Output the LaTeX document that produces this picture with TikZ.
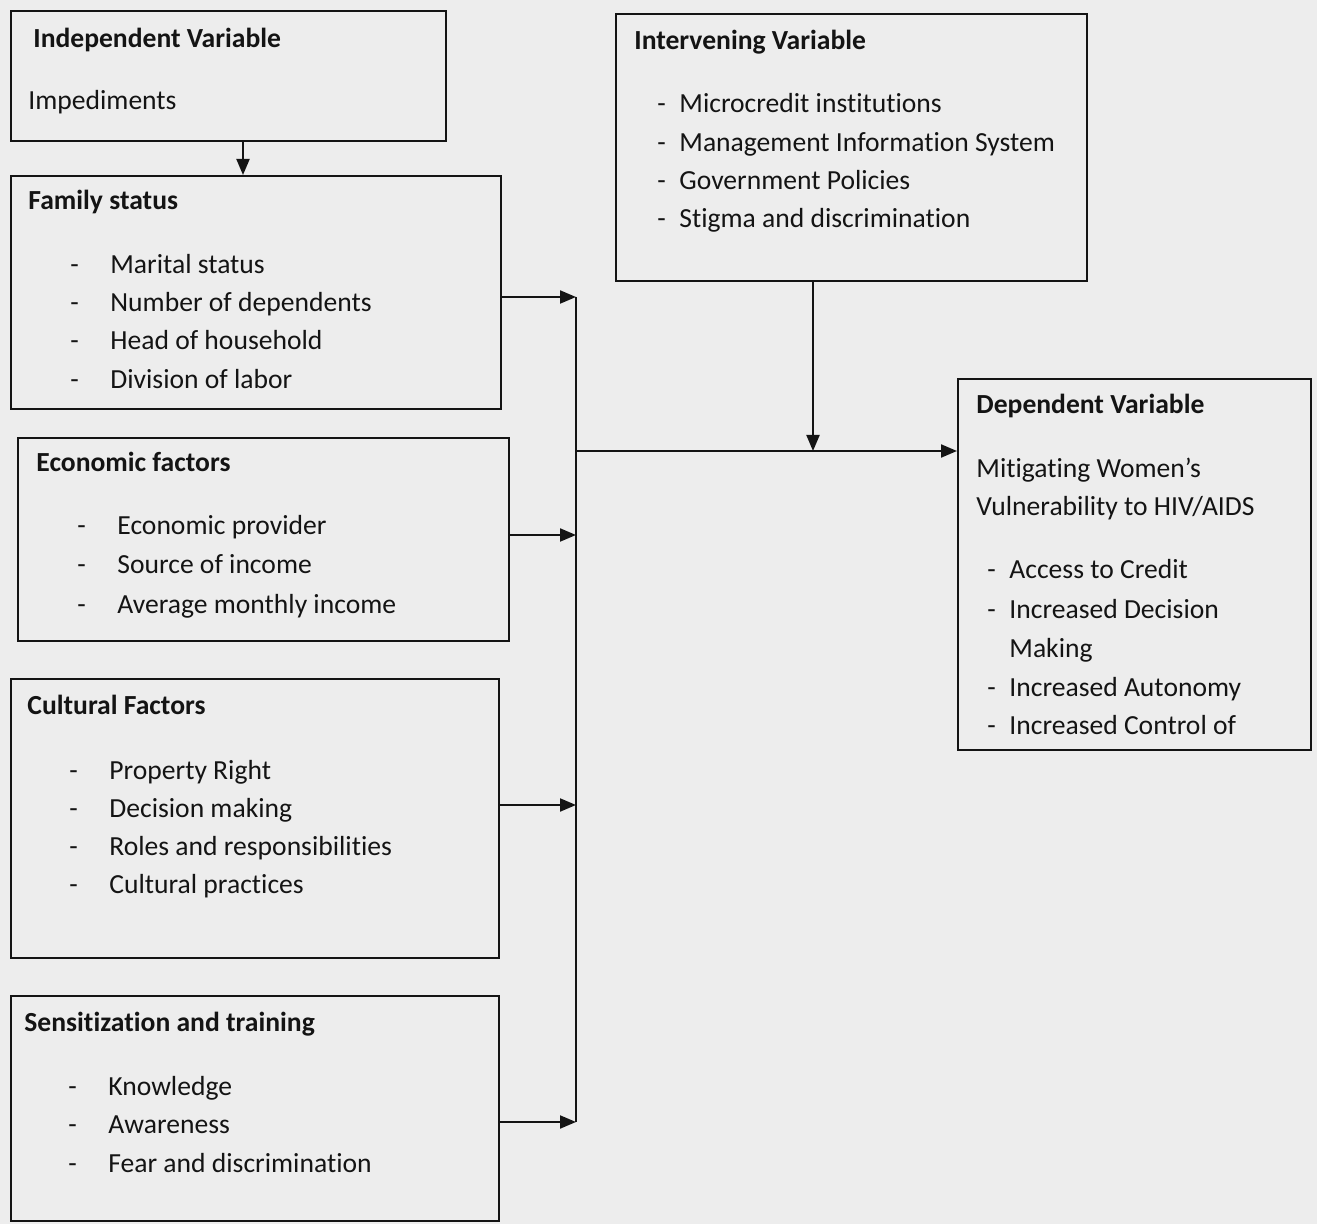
\documentclass[tikz,border=0pt]{standalone}
\usepackage{fontspec}
\setmainfont{Carlito}[Ligatures=NoCommon]
\usetikzlibrary{arrows.meta}

\definecolor{paper}{RGB}{237,237,237}
\definecolor{ink}{RGB}{20,20,20}

\tikzset{
  box/.style={draw=ink, line width=0.8pt, inner sep=0pt, anchor=north west},
  head/.style={anchor=base west, inner sep=0pt, text=ink, font=\fontsize{13.8}{17}\selectfont\bfseries},
  item/.style={anchor=base west, inner sep=0pt, text=ink, font=\fontsize{13.8}{17}\selectfont},
  line/.style={draw=ink, line width=1pt},
  link/.style={line, -{Triangle[length=8pt,width=6.5pt]}},
}

\begin{document}
\begin{tikzpicture}[x=0.5pt, y=-0.5pt]

\fill[paper] (0,0) rectangle (1317,1224);
\useasboundingbox (0,0) rectangle (1317,1224);

%% === boxes ===
\node[box, minimum width=217.5pt, minimum height=65pt]  (indep) at (10,10) {};
\node[box, minimum width=245pt,   minimum height=116.5pt] (family) at (10,175) {};
\node[box, minimum width=245.5pt, minimum height=101.5pt] (econ) at (17,437) {};
\node[box, minimum width=244pt,   minimum height=139.5pt] (cult) at (10,678) {};
\node[box, minimum width=244pt,   minimum height=112.5pt] (sens) at (10,995) {};
\node[box, minimum width=235.5pt, minimum height=133.5pt] (inter) at (615,13) {};
\node[box, minimum width=176.5pt, minimum height=185.5pt] (dep) at (957,378) {};

%% Independent variable
\node[head] (indep title) at (33,48) {Independent Variable};
\node[item] (indep text) at (28,110) {Impediments};

%% Family status
\node[head] (family title) at (28,210) {Family status};
\foreach \y/\t [count=\i] in {274/Marital status,312/Number of dependents,
                              350/Head of household,389/Division of labor} {
    \node[item] (family dash\i) at (70,\y) {-};
    \node[item] (family item\i) at (110,\y) {\t};
}

%% Economic factors
\node[head] (econ title) at (36,472) {Economic factors};
\foreach \y/\t [count=\i] in {535/Economic provider,574/Source of income,
                              613/Average monthly income} {
    \node[item] (econ dash\i) at (77,\y) {-};
    \node[item] (econ item\i) at (117,\y) {\t};
}

%% Cultural factors
\node[head] (cult title) at (27,714) {Cultural Factors};
\foreach \y/\t [count=\i] in {779/Property Right,817/Decision making,
                              855/Roles and responsibilities,893/Cultural practices} {
    \node[item] (cult dash\i) at (69,\y) {-};
    \node[item] (cult item\i) at (109,\y) {\t};
}

%% Sensitization and training
\node[head] (sens title) at (24,1031) {Sensitization and training};
\foreach \y/\t [count=\i] in {1095/Knowledge,1133/Awareness,1172/Fear and discrimination} {
    \node[item] (sens dash\i) at (68,\y) {-};
    \node[item] (sens item\i) at (108,\y) {\t};
}

%% Intervening variable
\node[head] (inter title) at (634,50) {Intervening Variable};
\foreach \y/\t [count=\i] in {113/Microcredit institutions,152/Management Information System,
                              190/Government Policies,228/Stigma and discrimination} {
    \node[item] (inter dash\i) at (657,\y) {-};
    \node[item] (inter item\i) at (679,\y) {\t};
}

%% Dependent variable
\node[head] (dep title) at (976,414) {Dependent Variable};
\node[item] (dep text1) at (976,478) {Mitigating Women’s};
\node[item] (dep text2) at (976,516) {Vulnerability to HIV/AIDS};
\foreach \y/\t [count=\i] in {579/Access to Credit,618/Increased Decision,
                              696/Increased Autonomy,734/Increased Control of} {
    \node[item] (dep dash\i) at (987,\y) {-};
    \node[item] (dep item\i) at (1009,\y) {\t};
}
\node[item] (dep wrap) at (1009,657) {Making};

%% === connectors ===
\coordinate (drop) at (243,140);
\coordinate (bus1) at (576,297);
\coordinate (bus2) at (576,535);
\coordinate (bus3) at (576,805);
\coordinate (bus4) at (576,1122);
\coordinate (join) at (576,451);
\coordinate (meet) at (813,451);

\draw[link] (drop |- indep.south) -- (drop |- family.north);

\draw[link] (family.east |- bus1) -- (bus1);
\draw[link] (econ.east |- bus2) -- (bus2);
\draw[link] (cult.east |- bus3) -- (bus3);
\draw[link] (sens.east |- bus4) -- (bus4);
\draw[line] (bus1) -- (bus4);

\draw[link] (join) -- (join -| dep.west);
\draw[link] (meet |- inter.south) -- (meet);

\end{tikzpicture}
\end{document}
